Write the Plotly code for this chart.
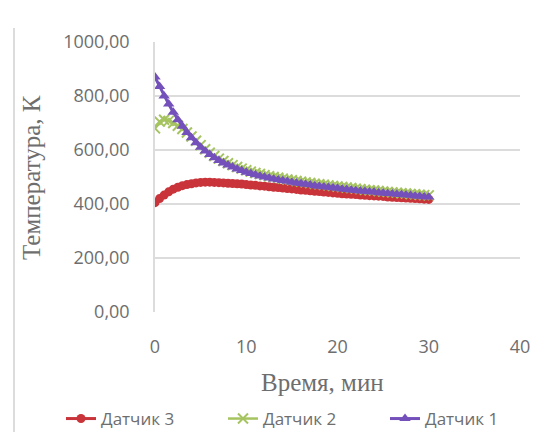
import plotly.graph_objects as go

# Time axis, minutes (0.5 min step)
time_min = [i * 0.5 for i in range(61)]

# Sensor readings, K
sensor_3 = [405, 420, 433, 445, 455, 462, 468, 472, 475, 478, 480, 481, 481, 480, 479,
            478, 477, 476, 475, 474, 472,
            470, 469, 467, 466, 464, 462, 461, 459, 457, 456, 454, 452, 451, 449, 447,
            446, 444, 443, 441, 440, 438, 437, 436, 435, 433, 432, 431, 430, 429, 428,
            426, 425, 424, 423, 422, 421, 420, 419, 418, 417]
sensor_2 = [680, 705, 712, 708, 700, 690, 678, 665, 650, 634, 618, 603, 590, 578, 568,
            559, 551, 544, 537, 531, 525,
            520, 515, 511, 507, 503, 500, 497, 494, 491, 488, 485, 483, 480, 478, 475,
            473, 471, 469, 467, 465, 463, 461, 459, 457, 455, 453, 451, 450, 448, 446,
            445, 443, 442, 440, 439, 437, 436, 434, 433, 432]
sensor_1 = [870, 835, 800, 770, 740, 712, 688, 665, 645, 627, 610, 596, 583, 571, 561,
            552, 544, 537, 530, 524, 518,
            513, 508, 504, 500, 496, 493, 490, 487, 484, 481, 478, 476, 473, 471, 468,
            466, 464, 462, 460, 458, 456, 454, 452, 450, 448, 447, 445, 444, 442, 441,
            439, 438, 436, 435, 433, 432, 430, 429, 427, 426]

x_ticks = [0, 10, 20, 30, 40]
y_ticks = [0, 200, 400, 600, 800, 1000]
y_tick_text = ["0,00", "200,00", "400,00", "600,00", "800,00", "1000,00"]

W, H = 549, 432
ML, MR, MT, MB = 155, 29, 42, 120
PW, PH = W - ML - MR, H - MT - MB

TEXT = "#6e6e6e"
SERIF = "Liberation Serif, DejaVu Serif, serif"

fig = go.Figure()
fig.add_trace(go.Scatter(
    x=time_min, y=sensor_3, name="Датчик 3", mode="lines+markers",
    line=dict(color="#c9343a", width=3),
    marker=dict(symbol="circle", size=9, color="#c9343a"),
))
fig.add_trace(go.Scatter(
    x=time_min, y=sensor_2, name="Датчик 2", mode="lines+markers",
    line=dict(color="#a5c460", width=2.5),
    marker=dict(symbol="x-thin-open", size=10, color="#a5c460",
                line=dict(color="#a5c460", width=2)),
))
fig.add_trace(go.Scatter(
    x=time_min, y=sensor_1, name="Датчик 1", mode="lines+markers",
    line=dict(color="#7450bb", width=3),
    marker=dict(symbol="triangle-up", size=10, color="#7450bb"),
))


def px_x(px):
    return (px - ML) / PW


def px_y(py):
    return (H - MB - py) / PH


fig.update_layout(
    width=W, height=H,
    margin=dict(l=ML, r=MR, t=MT, b=MB, autoexpand=False),
    paper_bgcolor="white", plot_bgcolor="white",
    font=dict(family="Open Sans, DejaVu Sans, sans-serif", size=18, color=TEXT),
    showlegend=True,
    legend=dict(orientation="h", x=px_x(61), xanchor="left", y=px_y(419),
                yanchor="middle", font=dict(size=17, color=TEXT),
                traceorder="normal", entrywidth=117, entrywidthmode="pixels"),
    xaxis=dict(range=[0, 40], tickvals=x_ticks, showgrid=False, zeroline=False,
               showline=False, ticks="", ticklabelstandoff=22,
               tickfont=dict(size=18, color=TEXT)),
    yaxis=dict(range=[0, 1000], tickvals=y_ticks, ticktext=y_tick_text,
               showgrid=True, gridcolor="#dcdcdc", gridwidth=1.5, zeroline=False,
               showline=True, linecolor="#dcdcdc", linewidth=1.5, ticks="",
               ticklabelstandoff=20, tickfont=dict(size=18, color=TEXT)),
    annotations=[
        dict(text="Температура, К", textangle=-90, x=px_x(31), y=px_y(178),
             xref="paper", yref="paper", xanchor="center", yanchor="middle",
             showarrow=False, font=dict(family=SERIF, size=25, color=TEXT)),
        dict(text="Время, мин", x=px_x(322), y=px_y(382),
             xref="paper", yref="paper", xanchor="center", yanchor="middle",
             showarrow=False, font=dict(family=SERIF, size=25, color=TEXT)),
    ],
)

# Thin frame line on the left edge
fig.add_shape(type="line", xref="paper", yref="paper",
              x0=px_x(14), x1=px_x(14), y0=px_y(432), y1=px_y(28),
              line=dict(color="#d0d0d0", width=1.5))

fig.write_html("out.html")
